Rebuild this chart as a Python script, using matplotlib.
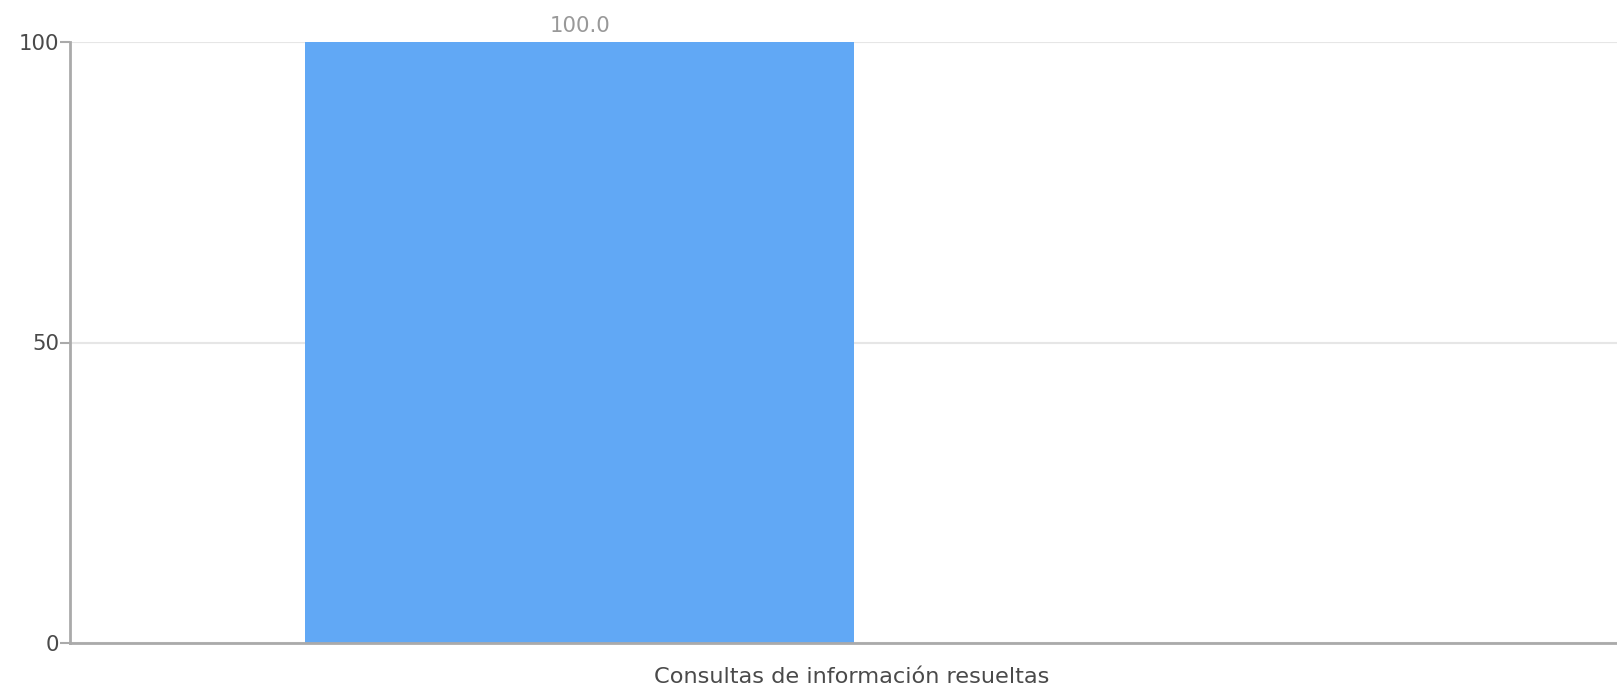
import matplotlib
matplotlib.use("Agg")
import matplotlib.pyplot as plt

plt.rcParams["font.family"] = ["DejaVu Sans"]

categories = ["Consultas de información resueltas"]
values = [100.0]
yticks = [0, 50, 100]

fig = plt.figure(figsize=(16.17, 6.87), dpi=100)
ax = fig.add_axes([70 / 1617, 1 - 643 / 687, 1 - 70 / 1617, (643 - 42) / 687])

width = 0.351
offset = -0.174
x = list(range(len(categories)))
bars = ax.bar([i + offset for i in x], values, width=width, color="#61a8f5", zorder=2)

for b, v in zip(bars, values):
    ax.annotate(f"{v:.1f}", (b.get_x() + b.get_width() / 2, v), xytext=(0, 4),
                textcoords="offset points", ha="center", va="bottom",
                fontsize=15.3, color="#999999")

ax.set_xlim(-0.5, 0.489)
ax.set_ylim(0, 100)
ax.set_yticks(yticks)
ax.set_xticks(x)
ax.set_xticklabels(categories)
ax.yaxis.grid(True, color="#e6e6e6", linewidth=1.5, zorder=0)

for s in ["top", "right"]:
    ax.spines[s].set_visible(False)
for s in ["left", "bottom"]:
    ax.spines[s].set_color("#aaaaaa")
    ax.spines[s].set_linewidth(2)

ax.tick_params(axis="y", length=7, width=1.5, color="#aaaaaa", labelsize=15.3,
               labelcolor="#4a4a4a", pad=1)
ax.tick_params(axis="x", length=0, labelsize=16.2, labelcolor="#4a4a4a", pad=17)

fig.savefig("out.png", dpi=100)
